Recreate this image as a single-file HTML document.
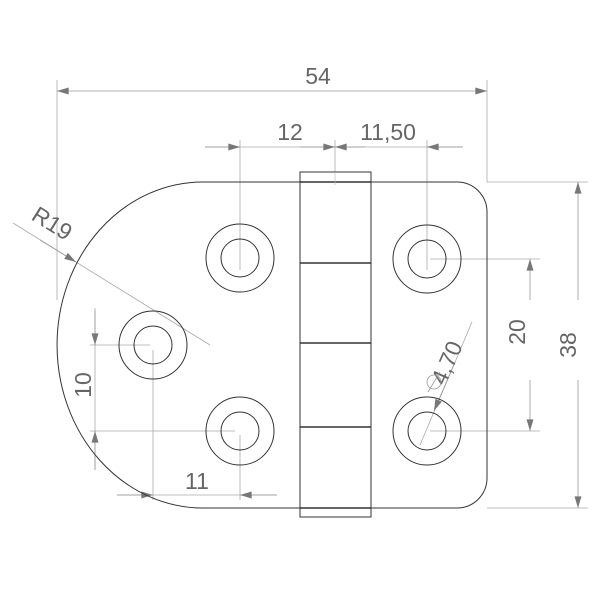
<!DOCTYPE html>
<html><head><style>body{margin:0;background:#fff}svg{display:block}</style></head><body>
<svg width="600" height="600" viewBox="0 0 600 600" xmlns="http://www.w3.org/2000/svg" font-family="'Liberation Sans',sans-serif" fill="none">
<defs>
<marker id="a" viewBox="0 0 10 6" refX="10" refY="3" markerWidth="22" markerHeight="7" markerUnits="userSpaceOnUse" orient="auto"><path d="M0,0 L10,3 L0,6z" fill="#777"/></marker>
</defs>
<g stroke="#aaa" stroke-width="0.8">
<line x1="57" y1="80" x2="57" y2="300"/><line x1="487" y1="80" x2="487" y2="182"/>
<line x1="240" y1="140" x2="240" y2="270"/><line x1="335" y1="140" x2="335" y2="185"/><line x1="427" y1="140" x2="427" y2="270"/>
<line x1="205" y1="147" x2="335" y2="147"/><line x1="335" y1="147" x2="463" y2="147"/>
<line x1="487" y1="182" x2="588" y2="182"/><line x1="487" y1="508" x2="588" y2="508"/>
<line x1="430" y1="259" x2="540" y2="259"/><line x1="430" y1="431" x2="540" y2="431"/>
<line x1="90" y1="345" x2="150" y2="345"/><line x1="90" y1="431" x2="235" y2="431"/>
<line x1="95" y1="308" x2="95" y2="470"/>
<line x1="153" y1="350" x2="153" y2="500"/><line x1="240" y1="435" x2="240" y2="500"/>
<line x1="117" y1="495" x2="277" y2="495"/>
<line x1="13" y1="223" x2="210" y2="345"/>
<line x1="420" y1="445" x2="472" y2="322"/>
</g>
<g stroke="#999" stroke-width="0.8">
<line x1="90" y1="91" x2="57" y2="91" marker-end="url(#a)"/>
<line x1="90" y1="91" x2="487" y2="91" marker-end="url(#a)"/>
<line x1="205" y1="147" x2="240" y2="147" marker-end="url(#a)"/>
<line x1="300" y1="147" x2="335" y2="147" marker-end="url(#a)"/>
<line x1="365" y1="147" x2="335" y2="147" marker-end="url(#a)"/>
<line x1="463" y1="147" x2="427" y2="147" marker-end="url(#a)"/>
<line x1="578" y1="300" x2="578" y2="182" marker-end="url(#a)"/>
<line x1="578" y1="380" x2="578" y2="508" marker-end="url(#a)"/>
<line x1="530" y1="300" x2="530" y2="259" marker-end="url(#a)"/>
<line x1="530" y1="380" x2="530" y2="431" marker-end="url(#a)"/>
<line x1="95" y1="310" x2="95" y2="345" marker-end="url(#a)"/>
<line x1="95" y1="470" x2="95" y2="431" marker-end="url(#a)"/>
<line x1="117" y1="495" x2="153" y2="495" marker-end="url(#a)"/>
<line x1="277" y1="495" x2="240" y2="495" marker-end="url(#a)"/>
<line x1="40" y1="240" x2="76" y2="262" marker-end="url(#a)"/>
<line x1="455" y1="362" x2="434" y2="411" marker-end="url(#a)"/>
</g>
<g stroke="#333" stroke-width="1">
<path d="M203,182 L457,182 A30,30 0 0 1 487,212 L487,478 A30,30 0 0 1 457,508 L203,508 A146,163 0 0 1 203,182 Z"/>
<rect x="300" y="172" width="71" height="345" fill="#fff"/>
<g stroke-width="1.6"><line x1="300" y1="182" x2="371" y2="182"/><line x1="300" y1="263" x2="371" y2="263"/><line x1="300" y1="343" x2="371" y2="343"/><line x1="300" y1="427" x2="371" y2="427"/><line x1="300" y1="508" x2="371" y2="508"/></g>
<circle cx="240" cy="258" r="34"/><circle cx="240" cy="258" r="19"/>
<circle cx="427" cy="259" r="34"/><circle cx="427" cy="259" r="19"/>
<circle cx="153" cy="345" r="34"/><circle cx="153" cy="345" r="19"/>
<circle cx="240" cy="431" r="34"/><circle cx="240" cy="431" r="19"/>
<circle cx="427" cy="431" r="34"/><circle cx="427" cy="431" r="19"/>
</g>
<g stroke="#bbb" stroke-width="0.7"><line x1="335" y1="172" x2="335" y2="185"/></g>
<g fill="#666" font-size="23" stroke="none">
<text x="318" y="84" text-anchor="middle">54</text>
<text x="290" y="140" text-anchor="middle">12</text>
<text x="388" y="140" text-anchor="middle">11,50</text>
<text x="197" y="489" text-anchor="middle">11</text>
<text transform="translate(576,345) rotate(-90)" text-anchor="middle">38</text>
<text transform="translate(525,332) rotate(-90)" text-anchor="middle">20</text>
<text transform="translate(91,385) rotate(-90)" text-anchor="middle">10</text>
<text transform="translate(48,230) rotate(32)" text-anchor="middle">R19</text>
<text transform="translate(454,366) rotate(-66)" text-anchor="middle">4,70</text>
</g>
<circle cx="434" cy="382" r="7" stroke="#999" stroke-width="0.8"/>
<line x1="428" y1="392" x2="440" y2="372" stroke="#999" stroke-width="0.8"/>
</svg>
</body></html>
